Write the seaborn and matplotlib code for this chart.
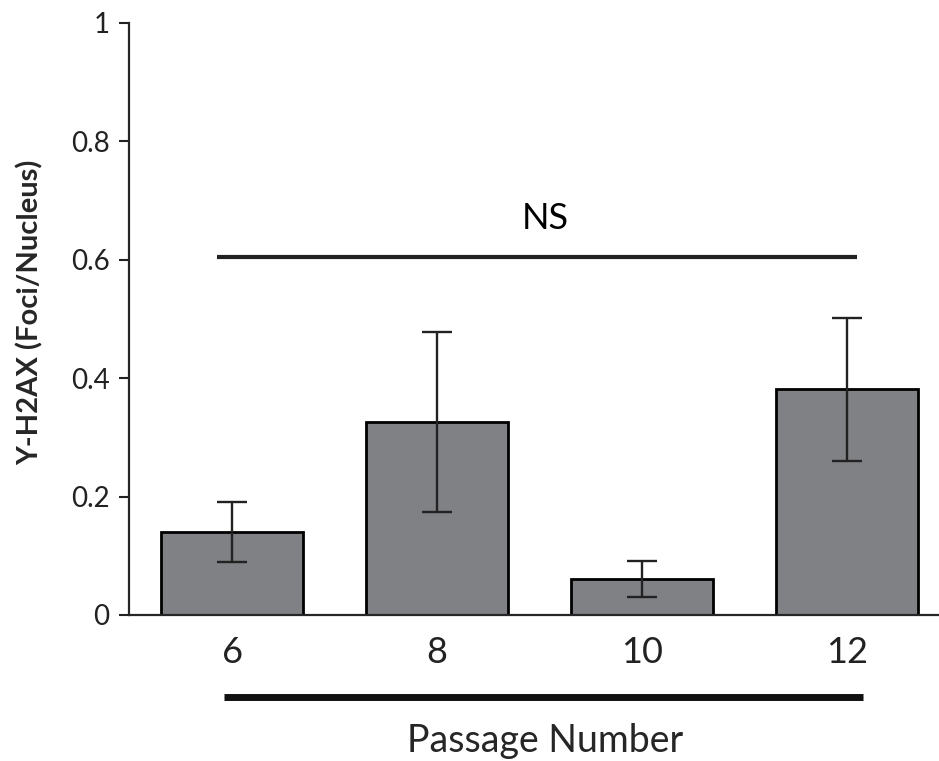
import numpy as np
import pandas as pd
import matplotlib
matplotlib.use("Agg")
import matplotlib.pyplot as plt
import seaborn as sns

# values
passage = ["6", "8", "10", "12"]
foci = [0.140, 0.326, 0.061, 0.381]
sem = [0.050, 0.152, 0.030, 0.121]

sns.set_style("ticks")
plt.rcParams['font.family'] = ['Lato', 'DejaVu Sans']

df = pd.DataFrame({"passage": passage, "foci": foci, "sem": sem})

fig = plt.figure(figsize=(9.39, 7.61), dpi=100)
ax = fig.add_axes([0.1374, 0.1919, 0.8626, 0.778])

sns.barplot(data=df, x="passage", y="foci", color="#808185", saturation=1,
            edgecolor="black", linewidth=2, width=0.69, errorbar=None, ax=ax)

# error bars from the sem column
ax.errorbar(np.arange(len(df)), df["foci"], yerr=df["sem"], fmt="none",
            ecolor="#222222", elinewidth=1.7, capsize=11, capthick=1.7, zorder=5)

ax.set_ylim(0, 1)
ax.set_xlim(-0.503, 3.449)
ax.set_yticks([0, 0.2, 0.4, 0.6, 0.8, 1.0])
ax.set_yticklabels(["0", "0.2", "0.4", "0.6", "0.8", "1"])
ax.tick_params(axis="y", labelsize=20, length=7, width=1.5, direction="out",
               pad=7, colors="#222222")
ax.tick_params(axis="x", labelsize=26, length=0, pad=15, colors="#222222")
for s in ["top", "right"]:
    ax.spines[s].set_visible(False)
ax.spines["left"].set_linewidth(1.6)
ax.spines["bottom"].set_linewidth(1.6)

ax.set_ylabel("Υ-H2AX (Foci/Nucleus)", fontsize=21, fontweight="bold")
ax.yaxis.set_label_coords(-0.105, 0.511)
ax.set_xlabel("Passage Number", fontsize=27)
ax.xaxis.set_label_coords(0.514, -0.182)

# NS bracket
ax.plot([-0.073, 3.05], [0.604, 0.604], color="#222222", lw=3, solid_capstyle="butt")
ax.text(1.527, 0.67, "NS", fontsize=26, ha="center", va="center", color="black")

# thick line under the tick labels
ax.plot([-0.04, 3.08], [-0.1385, -0.1385], color="#111111", lw=5,
        solid_capstyle="butt", clip_on=False)

fig.savefig("out.png", dpi=100)
